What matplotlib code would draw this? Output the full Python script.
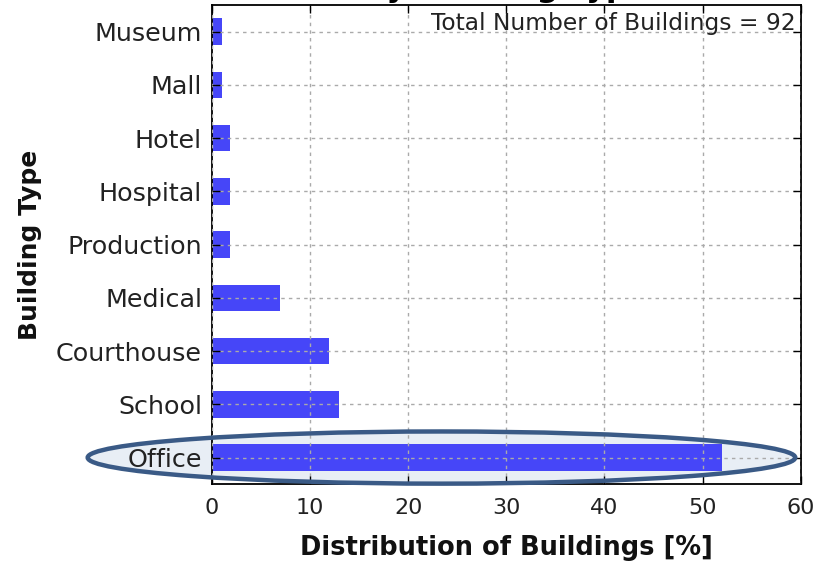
# Building type distribution (horizontal bars)

import matplotlib
matplotlib.use('Agg')
import matplotlib.pyplot as plt
from matplotlib.patches import Ellipse

building_types = ['Office', 'School', 'Courthouse', 'Medical', 'Production',
                  'Hospital', 'Hotel', 'Mall', 'Museum']
share_pct = [52.0, 13.0, 11.9, 6.9, 1.9, 1.9, 1.9, 1.0, 1.0]
total_buildings = 92
x_ticks = [0, 10, 20, 30, 40, 50, 60]

fig = plt.figure(figsize=(8.34, 5.63), dpi=100)
ax = fig.add_axes([0.254, 0.140, 0.706, 0.851])

ypos = list(range(len(building_types)))
ax.barh(ypos, share_pct, height=0.5, color='#4646f8', edgecolor='none', zorder=1)

ax.set_xlim(0, 60)
ax.set_ylim(-0.5, len(building_types) - 0.5)
ax.set_xticks(x_ticks)
ax.set_yticks(ypos)
ax.set_yticklabels(building_types, fontsize=18.3, color='#222222')
ax.tick_params(axis='x', labelsize=16, labelcolor='#222222', pad=10)

# old matplotlib look: ticks inside on all sides, dashed grid on top
ax.tick_params(direction='in', length=6, width=1, top=True, right=True)
ax.tick_params(axis='y', pad=7)
ax.set_axisbelow(False)
ax.grid(True, color='#aaaaaa', linestyle=(0, (2.5, 3)), linewidth=1)
for sp in ax.spines.values():
    sp.set_linewidth(1.3)
    sp.set_color('black')

ax.set_xlabel('Distribution of Buildings [%]', fontsize=18.5, fontweight='bold',
              labelpad=12, color='#111111')
ax.set_ylabel('Building Type', fontsize=18, fontweight='bold', labelpad=10,
              color='#111111')

ax.text(0.992, 0.985, 'Total Number of Buildings = %d' % total_buildings,
        transform=ax.transAxes, ha='right', va='top', fontsize=16.8, color='#222222')

# title is cropped at the top of the image
fig.text(648 / 834, 1 + 3 / 563, 'Distribution by Building Type', ha='right',
         va='baseline', fontsize=22, fontweight='bold')

# highlight the Office row
fill = Ellipse((23.4, 0), 72.1, 0.98, facecolor='#dfe7f2', edgecolor='none',
               alpha=0.7, clip_on=False, zorder=0.5)
ring = Ellipse((23.4, 0), 72.1, 0.98, fill=False, edgecolor='#3a5a86',
               linewidth=3.2, clip_on=False, zorder=5)
ax.add_patch(fill)
ax.add_patch(ring)

plt.savefig('out.png', dpi=100)
